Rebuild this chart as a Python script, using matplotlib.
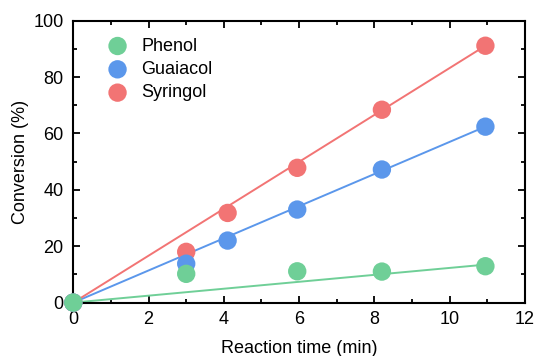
import matplotlib
matplotlib.use("Agg")
import matplotlib.pyplot as plt
from matplotlib.ticker import MultipleLocator
import numpy as np

plt.rcParams['font.family'] = ['Liberation Sans', 'DejaVu Sans']

# Data
phenol_t = [0, 3.0, 5.95, 8.2, 10.95]
phenol_y = [0, 10.2, 11.1, 11.0, 12.9]
guaiacol_t = [0, 3.0, 4.1, 5.95, 8.2, 10.95]
guaiacol_y = [0, 13.8, 22.0, 33.0, 47.2, 62.4]
syringol_t = [0, 3.0, 4.1, 5.95, 8.2, 10.95]
syringol_y = [0, 18.0, 31.8, 47.8, 68.4, 91.1]
# linear fit slopes (through origin)
fit_slopes = {"Phenol": 1.23, "Guaiacol": 5.7, "Syringol": 8.32}
fit_tmax = 10.95

colors = {"Phenol": "#6fcf97", "Guaiacol": "#5b97eb", "Syringol": "#f27474"}

fig = plt.figure(figsize=(5.37, 3.56), dpi=100)
ax = fig.add_axes([0.1365, 0.150, 0.841, 0.792])

series = [("Phenol", phenol_t, phenol_y),
          ("Guaiacol", guaiacol_t, guaiacol_y),
          ("Syringol", syringol_t, syringol_y)]

tfit = np.array([0, fit_tmax])
for name, t, y in series:
    ax.plot(tfit, fit_slopes[name] * tfit, color=colors[name], lw=1.4, zorder=2)

handles = {}
z = {"Syringol": 3, "Guaiacol": 4, "Phenol": 5}
for name, t, y in series:
    h = ax.scatter(t, y, s=175, color=colors[name], edgecolors='none',
                   zorder=z[name], clip_on=False, label=name)
    handles[name] = h

ax.legend([handles[n] for n in ["Phenol", "Guaiacol", "Syringol"]],
          ["Phenol", "Guaiacol", "Syringol"],
          loc='upper left', bbox_to_anchor=(0.022, 0.997), frameon=False,
          fontsize=13, handletextpad=0.3, labelspacing=0.35,
          borderaxespad=0.5, borderpad=0.4, markerscale=1.0)

ax.set_xlim(0, 12)
ax.set_ylim(0, 100)
ax.xaxis.set_major_locator(MultipleLocator(2))
ax.xaxis.set_minor_locator(MultipleLocator(1))
ax.yaxis.set_major_locator(MultipleLocator(20))
ax.yaxis.set_minor_locator(MultipleLocator(10))
ax.tick_params(which='both', direction='in', top=True, right=True,
               labelsize=13, width=1.3)
ax.tick_params(which='major', length=5)
ax.tick_params(axis='y', which='major', pad=7)
ax.tick_params(axis='x', which='major', pad=6)
ax.tick_params(which='minor', length=3)
for s in ax.spines.values():
    s.set_linewidth(1.5)

ax.set_xlabel("Reaction time (min)", fontsize=13, labelpad=9)
ax.set_ylabel("Conversion (%)", fontsize=13, labelpad=3)

fig.savefig("out.png", dpi=100)
